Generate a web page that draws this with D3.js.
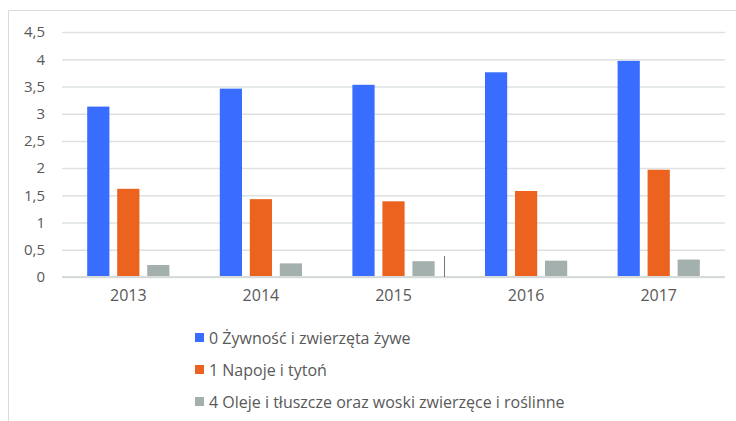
<!DOCTYPE html>
<html>
<head>
<meta charset="utf-8">
<script src="https://cdn.jsdelivr.net/npm/d3@7"></script>
<style>
  body { margin: 0; background: #fff; }
  text { font-family: "Open Sans", sans-serif; fill: #595959; }
</style>
</head>
<body>
<div id="chart"></div>
<script>
// data
var years = ["2013", "2014", "2015", "2016", "2017"];
var seriesNames = [
  "0 Żywność i zwierzęta żywe",
  "1 Napoje i tytoń",
  "4 Oleje i tłuszcze oraz woski zwierzęce i roślinne"
];
var food = [3.13, 3.46, 3.53, 3.76, 3.97];
var drinks = [1.62, 1.43, 1.39, 1.58, 1.97];
var oils = [0.22, 0.25, 0.29, 0.30, 0.32];
var yTicks = [0, 0.5, 1, 1.5, 2, 2.5, 3, 3.5, 4, 4.5];
var colors = ["#386dff", "#ec621f", "#a3b0ae"];

var svgWidth = 736;
var svgHeight = 421;

var margin = { top: 32, right: 11, bottom: 144, left: 62 };
var width = svgWidth - margin.left - margin.right;
var height = svgHeight - margin.top - margin.bottom;

var svg = d3.select("#chart")
  .append("svg")
  .attr("width", svgWidth)
  .attr("height", svgHeight);

// outer frame (top and left edges only are visible)
svg.append("line")
  .attr("x1", 8.5).attr("x2", 736).attr("y1", 10.5).attr("y2", 10.5)
  .attr("stroke", "#d9dcdb").attr("stroke-width", 1);
svg.append("line")
  .attr("x1", 8.5).attr("x2", 8.5).attr("y1", 10.5).attr("y2", 421)
  .attr("stroke", "#d9dcdb").attr("stroke-width", 1);

var chartGroup = svg.append("g")
  .attr("transform", `translate(${margin.left}, ${margin.top})`);

var x0 = d3.scaleBand().domain(years).range([0, width]).paddingInner(0.38).paddingOuter(0.19);
var x1 = d3.scaleBand().domain([0, 1, 2]).range([0, x0.bandwidth()]).paddingInner(0.26);
var y = d3.scaleLinear().domain([0, 4.5]).range([height, 0]);

// gridlines + y labels
var leftAxis = d3.axisLeft(y)
  .tickValues(yTicks)
  .tickSize(-width)
  .tickPadding(17)
  .tickFormat(d => String(d).replace(".", ","));

var yAxis = chartGroup.append("g").call(leftAxis);
yAxis.select(".domain").remove();
yAxis.selectAll(".tick line")
  .attr("stroke", "#dde2e1")
  .attr("stroke-width", 1.5);
yAxis.selectAll(".tick text")
  .style("font-size", "15px")
  .style("font-family", "'Open Sans', sans-serif")
  .attr("fill", "#595959");

// bars
var series = [food, drinks, oils];
var groups = chartGroup.selectAll(".year")
  .data(years)
  .enter()
  .append("g")
  .attr("transform", d => `translate(${x0(d)}, 0)`);

groups.selectAll("rect")
  .data((d, i) => series.map((s, k) => ({ k: k, v: s[i] })))
  .enter()
  .append("rect")
  .attr("x", d => x1(d.k))
  .attr("y", d => y(d.v))
  .attr("width", x1.bandwidth())
  .attr("height", d => height - y(d.v))
  .attr("fill", d => colors[d.k]);

// baseline
chartGroup.append("line")
  .attr("x1", 0).attr("x2", width)
  .attr("y1", height).attr("y2", height)
  .attr("stroke", "#d6dbda").attr("stroke-width", 2);

// small stray mark near 2015 in the original
chartGroup.append("line")
  .attr("x1", 382.5).attr("x2", 382.5)
  .attr("y1", height - 21).attr("y2", height)
  .attr("stroke", "#777").attr("stroke-width", 1);

// x labels
var bottomAxis = d3.axisBottom(x0).tickSize(0).tickPadding(13);
var xAxis = chartGroup.append("g")
  .attr("transform", `translate(0, ${height})`)
  .call(bottomAxis);
xAxis.select(".domain").remove();
xAxis.selectAll(".tick text")
  .style("font-size", "16px")
  .style("font-family", "'Open Sans', sans-serif")
  .attr("fill", "#595959");

// legend
var legend = svg.append("g").attr("transform", "translate(195, 338)");
var rows = legend.selectAll("g")
  .data(seriesNames)
  .enter()
  .append("g")
  .attr("transform", (d, i) => `translate(0, ${i * 32})`);
rows.append("rect")
  .attr("x", 0).attr("y", -5)
  .attr("width", 9).attr("height", 9)
  .attr("fill", (d, i) => colors[i]);
rows.append("text")
  .attr("x", 14)
  .attr("y", 0)
  .attr("dy", "0.35em")
  .style("font-size", "16px")
  .text(d => d);
</script>
</body>
</html>
